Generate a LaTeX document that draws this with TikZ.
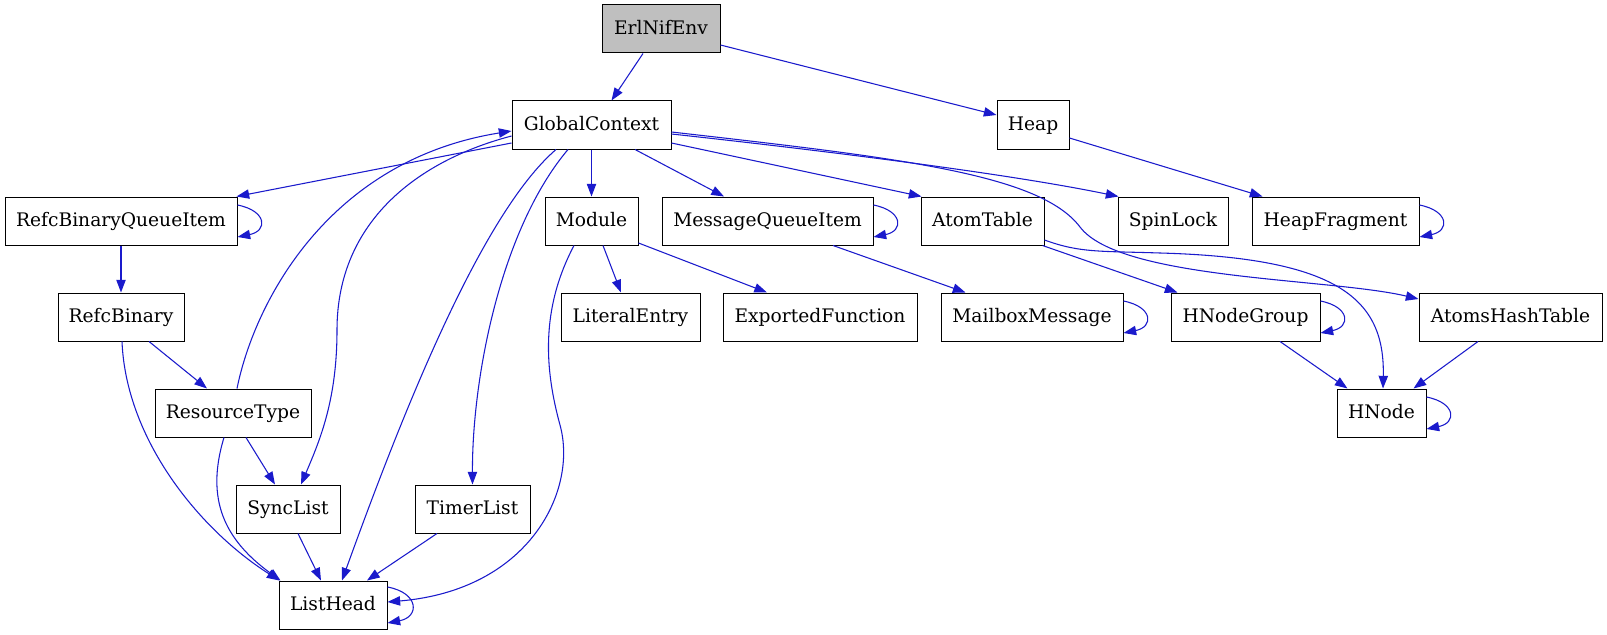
\documentclass[tikz,border=0pt]{standalone}
\usepackage{fontspec}
\setmainfont{DejaVu Serif}
\usetikzlibrary{arrows.meta,calc}
\definecolor{edgeblue}{RGB}{26,26,204}
\definecolor{rootgray}{RGB}{191,191,191}
\begin{document}
\begin{tikzpicture}[x=0.75pt,y=-0.75pt,
  box/.style={draw=black,line width=0.75pt,rectangle,minimum height=36pt,inner sep=0pt,
    font=\fontsize{14pt}{16pt}\selectfont,text height=10.2pt,text depth=1.6pt},
  bw/.style={minimum width={#1*0.75pt}},
  link/.style={draw=edgeblue,line width=0.8pt,-{Triangle[length=9.5pt,width=7pt]}},
]
\useasboundingbox[fill=white] (0,0) rectangle (1607,635);

% nodes
\node[box,bw=118,fill=rootgray] (env) at (661,29) {ErlNifEnv};
\node[box,bw=159] (gc) at (591.5,125) {GlobalContext};
\node[box,bw=72] (heap) at (1033,125) {Heap};
\node[box,bw=232] (rbqi) at (121,221) {RefcBinaryQueueItem};
\node[box,bw=93] (mod) at (591.5,221) {Module};
\node[box,bw=211] (mqi) at (767.5,221) {MessageQueueItem};
\node[box,bw=123] (at) at (982.5,221) {AtomTable};
\node[box,bw=110] (sl) at (1173,221) {SpinLock};
\node[box,bw=167] (hf) at (1335.5,221) {HeapFragment};
\node[box,bw=126] (rb) at (121,317) {RefcBinary};
\node[box,bw=139] (le) at (630.5,317) {LiteralEntry};
\node[box,bw=194] (ef) at (820,317) {ExportedFunction};
\node[box,bw=182] (mm) at (1032,317) {MailboxMessage};
\node[box,bw=149] (hng) at (1245.5,317) {HNodeGroup};
\node[box,bw=183] (aht) at (1510.5,317) {AtomsHashTable};
\node[box,bw=156] (rt) at (233,413) {ResourceType};
\node[box,bw=89] (hn) at (1381.5,413) {HNode};
\node[box,bw=104] (syn) at (288,509) {SyncList};
\node[box,bw=115] (tl) at (472.5,509) {TimerList};
\node[box,bw=108] (lh) at (333,605) {ListHead};

% edges
\draw[link] ($(env.south)+(-18,0)$) -- ($(gc.north)+(20,0)$);
\draw[link] ($(env.east)+(0,16)$) -- ($(heap.west)+(0,-10)$);
\draw[link] ($(heap.east)+(0,13)$) -- ($(hf.north west)+(11,0)$);
\draw[link] ($(gc.west)+(0,18)$) -- ($(rbqi.north east)+(-1,0)$);
\draw[link] (rbqi.south) -- (rb.north);
\draw[link] ($(rb.south)+(28,0)$) -- ($(rt.north)+(-26,0)$);
\draw[link] ($(rb.south)+(1,0)$) .. controls (126,440) and (200,530) .. ($(lh.north west)+(1,0)$);
\draw[link] ($(rt.north)+(4,0)$) .. controls (255,300) and (330,160) .. ($(gc.west)+(0,6)$);
\draw[link] ($(gc.west)+(0,11)$) .. controls (420,160) and (337,220) .. (337,330)
  .. controls (337,400) and (320,440) .. ($(syn.north)+(13,0)$);
\draw[link] ($(rt.south)+(13,0)$) -- ($(syn.north)+(-13,0)$);
\draw[link] ($(rt.south)+(-9,0)$) .. controls (205,500) and (225,540) .. ($(lh.north west)+(2,0)$);
\draw[link] ($(syn.south)+(10,0)$) -- ($(lh.north)+(-12,0)$);
\draw[link] ($(tl.south)+(-35.5,0)$) -- ($(lh.north)+(34,0)$);
\draw[link] ($(gc.south)+(-23.5,0)$) .. controls (500,230) and (472,380) .. (tl.north);
\draw[link] ($(gc.south)+(-35.5,0)$) .. controls (480,215) and (400,420) .. ($(lh.north)+(9,0)$);
\draw[link] (gc.south) -- (mod.north);
\draw[link] ($(gc.south)+(43.5,0)$) -- ($(mqi.north)+(-43.5,0)$);
\draw[link] ($(gc.east)+(0,18)$) -- ($(at.north west)+(1,0)$);
\draw[link] ($(gc.east)+(0,9)$) .. controls (800,148) and (1000,172) .. ($(sl.north west)+(1,0)$);
\draw[link] ($(gc.east)+(0,7)$) .. controls (900,158) and (1040,174) .. (1080,227)
  .. controls (1120,280) and (1330,278) .. ($(aht.west)+(0,-18)$);
\draw[link] ($(mod.south)+(11.5,0)$) -- ($(le.north)+(-9.5,0)$);
\draw[link] ($(mod.east)+(0,22)$) -- ($(ef.north)+(-53,0)$);
\draw[link] ($(mod.south)+(-17.5,0)$) .. controls (540,310) and (545,370) .. (560,425)
  .. controls (578,490) and (530,590) .. ($(lh.east)+(0,-3)$);
\draw[link] ($(mqi.south)+(65.5,0)$) -- ($(mm.north west)+(25,0)$);
\draw[link] ($(at.south east)+(-2,0)$) -- ($(hng.north west)+(7,0)$);
\draw[link] ($(at.east)+(0,19)$) .. controls (1080,253) and (1100,251) .. (1160,253)
  .. controls (1340,258) and (1385,300) .. ($(hn.north)+(1.5,0)$);
\draw[link] ($(hng.south)+(34.5,0)$) -- ($(hn.north west)+(11,0)$);
\draw[link] ($(aht.south)+(-32.5,0)$) -- ($(hn.north east)+(-13,0)$);

% self loops
\foreach \n in {rbqi,mqi,hf,mm,hng,hn}{
  \draw[link] ($(\n.east)+(0,-16)$) .. controls ($(\n.east)+(30,-10)$) and ($(\n.east)+(30,10)$) .. ($(\n.east)+(0,16)$);
}
\draw[link] ($(lh.east)+(0,-18)$) .. controls ($(lh.east)+(32,-12)$) and ($(lh.east)+(32,12)$) .. ($(lh.east)+(0,18)$);
\end{tikzpicture}
\end{document}
